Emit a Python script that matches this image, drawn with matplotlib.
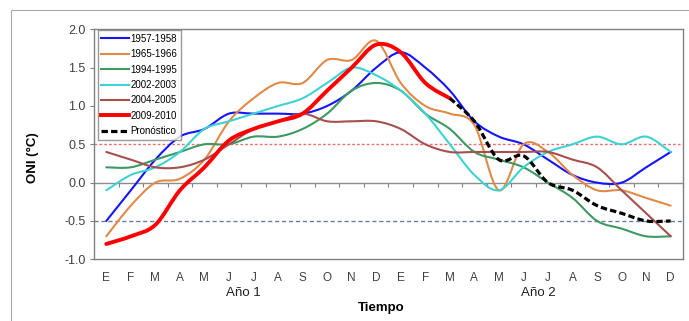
import matplotlib.pyplot as plt
from matplotlib.path import Path
from matplotlib.patches import PathPatch, Rectangle
from matplotlib.lines import Line2D

plt.rcParams['font.family'] = ['Liberation Sans', 'DejaVu Sans']

# --- data ---
months = ['E', 'F', 'M', 'A', 'M', 'J', 'J', 'A', 'S', 'O', 'N', 'D'] * 2
years_lbl = ['Año 1', 'Año 2']

oni_1957 = [-0.5, -0.1, 0.3, 0.6, 0.7, 0.9, 0.9, 0.9, 0.9, 1.0, 1.2, 1.5,
            1.7, 1.5, 1.2, 0.8, 0.6, 0.5, 0.3, 0.1, 0.0, 0.0, 0.2, 0.4]
oni_1965 = [-0.7, -0.3, 0.0, 0.05, 0.3, 0.8, 1.1, 1.3, 1.3, 1.6, 1.6, 1.85,
            1.3, 1.0, 0.9, 0.75, -0.1, 0.5, 0.4, 0.1, -0.1, -0.1, -0.2, -0.3]
oni_1994 = [0.2, 0.2, 0.3, 0.4, 0.5, 0.5, 0.6, 0.6, 0.7, 0.9, 1.2, 1.3,
            1.2, 0.9, 0.7, 0.4, 0.3, 0.2, 0.0, -0.2, -0.5, -0.6, -0.7, -0.7]
oni_2002 = [-0.1, 0.1, 0.2, 0.4, 0.7, 0.8, 0.9, 1.0, 1.1, 1.3, 1.5, 1.4,
            1.2, 0.9, 0.5, 0.1, -0.1, 0.2, 0.4, 0.5, 0.6, 0.5, 0.6, 0.4]
oni_2004 = [0.4, 0.3, 0.2, 0.2, 0.3, 0.5, 0.7, 0.8, 0.9, 0.8, 0.8, 0.8,
            0.7, 0.5, 0.4, 0.4, 0.4, 0.4, 0.4, 0.3, 0.2, -0.1, -0.4, -0.7]
oni_2009 = [-0.8, -0.7, -0.55, -0.1, 0.2, 0.55, 0.7, 0.8, 0.9, 1.2, 1.5, 1.8,
            1.7, 1.3, 1.1]
pronostico = [1.1, 0.8, 0.3, 0.35, 0.0, -0.1, -0.3, -0.4, -0.5, -0.5]
pron_start = 14

umbral_nino = 0.5
umbral_nina = -0.5


def smooth_path(x, y):
    # Excel-like smoothed line: cubic bezier through every point
    verts = [(x[0], y[0])]
    codes = [Path.MOVETO]
    n = len(x)
    for i in range(n - 1):
        a = i - 1 if i > 0 else i
        b = i + 2 if i + 2 < n else i + 1
        c1 = (x[i] + (x[i + 1] - x[a]) / 6, y[i] + (y[i + 1] - y[a]) / 6)
        c2 = (x[i + 1] - (x[b] - x[i]) / 6, y[i + 1] - (y[b] - y[i]) / 6)
        verts += [c1, c2, (x[i + 1], y[i + 1])]
        codes += [Path.CURVE4] * 3
    return Path(verts, codes)


series = [
    ('1957-1958', oni_1957, 0, '#1414FF', 1.5, '-'),
    ('1965-1966', oni_1965, 0, '#E08A48', 1.5, '-'),
    ('1994-1995', oni_1994, 0, '#3C9A62', 1.5, '-'),
    ('2002-2003', oni_2002, 0, '#3ED2D2', 1.5, '-'),
    ('2004-2005', oni_2004, 0, '#A5504E', 1.5, '-'),
    ('2009-2010', oni_2009, 0, '#FF0000', 2.8, '-'),
    ('Pronóstico', pronostico, pron_start, '#000000', 2.3, (0, (2, 1))),
]

fig = plt.figure(figsize=(6.89, 3.21), dpi=100)
ax = fig.add_axes([94 / 689, 1 - 259.3 / 321, 589 / 689, 230 / 321])

# outer chart frame
fig.patches.append(Rectangle((11 / 689, -0.1), 1.2, 1.1 - 10 / 321,
                             transform=fig.transFigure, fill=False,
                             edgecolor='#A6A6A6', lw=0.8))

ax.axhline(umbral_nino, color='#F07070', lw=1.0, ls=(0, (2, 1.5)), zorder=1)
ax.axhline(umbral_nina, color='#6A7FA0', lw=1.0, ls=(0, (3, 2)), zorder=1)
ax.axhline(0, color='#8C8C8C', lw=1.0, zorder=1)

handles = []
for lbl, vals, start, col, lw, ls in series:
    xs = list(range(start, start + len(vals)))
    patch = PathPatch(smooth_path(xs, vals), fill=False, edgecolor=col, lw=lw,
                      linestyle=ls, capstyle='round' if ls == '-' else 'butt',
                      joinstyle='round', zorder=3)
    ax.add_patch(patch)
    handles.append(Line2D([], [], color=col, lw=lw, linestyle=ls, label=lbl))

ax.set_xlim(-0.5, 23.5)
ax.set_ylim(-1.0, 2.0)
ax.set_yticks([-1.0, -0.5, 0.0, 0.5, 1.0, 1.5, 2.0])
ax.set_yticklabels([f'{v:.1f}' for v in [-1.0, -0.5, 0.0, 0.5, 1.0, 1.5, 2.0]])
ax.set_xticks(range(24))
ax.set_xticklabels(months)
ax.tick_params(axis='x', length=0, pad=9, labelsize=8.5, labelcolor='#404040')
ax.tick_params(axis='y', length=3, width=0.8, color='#808080', pad=3,
               labelsize=9, labelcolor='#404040')
for sp in ax.spines.values():
    sp.set_color('#808080')
    sp.set_linewidth(1.0)

# category axis crossing at zero, ticks between months
sec = ax.secondary_xaxis(1 / 3)
sec.set_xticks([i - 0.5 for i in range(25)])
sec.set_xticklabels([])
sec.tick_params(direction='out', length=3, width=0.8, color='#808080')
sec.spines['bottom'].set_visible(False)
sec.spines['top'].set_visible(False)

for k, lbl in enumerate(years_lbl):
    ax.text(5.6 + 12 * k, -0.147, lbl, transform=ax.get_xaxis_transform(),
            ha='center', va='center', fontsize=9.5, color='#202020')

ax.set_xlabel('Tiempo', fontsize=9.5, fontweight='bold')
ax.xaxis.set_label_coords(0.488, -0.185)
ax.set_ylabel('ONI (°C)', fontsize=9.5, fontweight='bold')
ax.yaxis.set_label_coords(-0.093, 0.44)

leg = ax.legend(handles=handles, loc='upper left', bbox_to_anchor=(0.006, 0.997),
                borderaxespad=0, fontsize=7, frameon=True, fancybox=False,
                handlelength=2.8, handletextpad=0.2, labelspacing=0.55,
                borderpad=0.4)
leg.get_frame().set_edgecolor('#808080')
leg.get_frame().set_linewidth(1.0)

fig.savefig('out.png', dpi=100)
